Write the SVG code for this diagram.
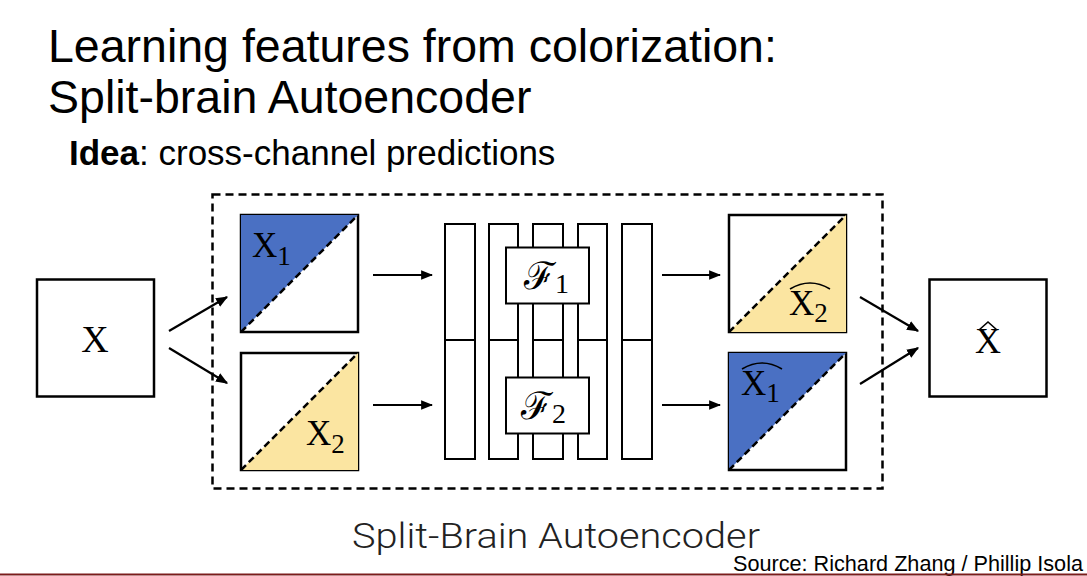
<svg xmlns="http://www.w3.org/2000/svg" width="1087" height="576" viewBox="0 0 1087 576">
<style>
.t{font-family:"Liberation Sans",Arial,sans-serif;fill:#000}
.box{fill:#fff;stroke:#000;stroke-width:2.5}
.col{fill:#fff;stroke:#000;stroke-width:2}
.diag{stroke:#000;stroke-width:2.5;stroke-dasharray:7 4;fill:none}
.blue{fill:#4A70C3}
.yel{fill:#FBE5A1}
.m{font-family:"Liberation Serif","DejaVu Serif",serif;fill:#000}
.hat{fill:none;stroke:#000;stroke-width:1.6}
.conn{stroke:#000;stroke-width:2.2;fill:none;marker-end:url(#ah)}
</style>
<defs>
<marker id="ah" viewBox="0 0 10 10" refX="9" refY="5" markerWidth="5.5" markerHeight="5.5" orient="auto" markerUnits="strokeWidth">
<path d="M0,1 L10,5 L0,9 z" fill="#000"/>
</marker>
</defs>
<rect width="1087" height="576" fill="#fff"/>

<g id="title">
<text class="t" x="48" y="62" font-size="46.5">Learning features from colorization:</text>
<text class="t" x="48" y="113" font-size="46.5">Split-brain Autoencoder</text>
<text class="t" x="69" y="165" font-size="35"><tspan font-weight="bold">Idea</tspan>: cross-channel predictions</text>
</g>

<g id="frame">
<rect x="212.5" y="194.5" width="670" height="294" fill="none" stroke="#000" stroke-width="2.5" stroke-dasharray="8 5"/>
</g>

<g id="node-x">
<rect class="box" x="37" y="279.5" width="117" height="117"/>
<text class="m" x="95" y="352" font-size="38" text-anchor="middle">X</text>
</g>

<g id="node-x1">
<rect class="box" x="241" y="215" width="117" height="117"/>
<polygon class="blue" points="241,215 358,215 241,332"/>
<line class="diag" x1="241" y1="332" x2="358" y2="215"/>
<text class="m" x="252" y="257" font-size="35">X<tspan font-size="27" dy="8">1</tspan></text>
</g>

<g id="node-x2">
<rect class="box" x="241" y="353" width="117" height="117"/>
<polygon class="yel" points="358,353 358,470 241,470"/>
<line class="diag" x1="241" y1="470" x2="358" y2="353"/>
<text class="m" x="306" y="445" font-size="35">X<tspan font-size="27" dy="8">2</tspan></text>
</g>

<g id="network">
<rect class="col" x="445" y="224" width="30" height="116"/>
<rect class="col" x="445" y="340" width="30" height="119"/>
<rect class="col" x="489" y="224" width="29" height="116"/>
<rect class="col" x="489" y="340" width="29" height="119"/>
<rect class="col" x="533" y="224" width="30" height="116"/>
<rect class="col" x="533" y="340" width="30" height="119"/>
<rect class="col" x="578" y="224" width="29" height="116"/>
<rect class="col" x="578" y="340" width="29" height="119"/>
<rect class="col" x="622" y="224" width="30" height="116"/>
<rect class="col" x="622" y="340" width="30" height="119"/>
</g>

<g id="node-f1">
<rect class="col" x="506" y="247.5" width="83" height="56"/>
<text class="m" x="524" y="289" font-size="38">ℱ<tspan font-size="28" dy="4">1</tspan></text>
</g>

<g id="node-f2">
<rect class="col" x="506" y="377.5" width="83" height="56"/>
<text class="m" x="521" y="419" font-size="38">ℱ<tspan font-size="28" dy="4">2</tspan></text>
</g>

<g id="node-x2hat">
<rect class="box" x="729" y="215" width="117" height="117"/>
<polygon class="yel" points="846,215 846,332 729,332"/>
<line class="diag" x1="729" y1="332" x2="846" y2="215"/>
<text class="m" x="789" y="315" font-size="35">X<tspan font-size="27" dy="7">2</tspan></text>
<path class="hat" d="M790,289 Q810,277 830,289"/>
</g>

<g id="node-x1hat">
<rect class="box" x="729" y="353" width="117" height="117"/>
<polygon class="blue" points="729,353 846,353 729,470"/>
<line class="diag" x1="729" y1="470" x2="846" y2="353"/>
<text class="m" x="741" y="395" font-size="35">X<tspan font-size="27" dy="7">1</tspan></text>
<path class="hat" d="M742,369 Q762,357 782,369"/>
</g>

<g id="node-xhat">
<rect class="box" x="929.5" y="279.5" width="117" height="117"/>
<text class="m" x="988" y="353" font-size="36" text-anchor="middle">X</text>
<path class="hat" d="M979,330 L988,322 L997,330"/>
</g>

<g id="connectors">
<line class="conn" x1="169" y1="331" x2="227" y2="297"/>
<line class="conn" x1="169" y1="348" x2="227" y2="383"/>
<line class="conn" x1="373" y1="275" x2="432" y2="275"/>
<line class="conn" x1="373" y1="405" x2="432" y2="405"/>
<line class="conn" x1="662" y1="275" x2="720" y2="275"/>
<line class="conn" x1="662" y1="405" x2="720" y2="405"/>
<line class="conn" x1="860" y1="297" x2="918" y2="331"/>
<line class="conn" x1="860" y1="384" x2="918" y2="348"/>
</g>

<g id="caption">
<text x="352" y="548" font-family="Roboto,'Liberation Sans',sans-serif" font-weight="300" font-size="35" fill="#222" textLength="408" lengthAdjust="spacingAndGlyphs">Split-Brain Autoencoder</text>
<text x="733" y="571" font-family="'Liberation Sans Narrow','Liberation Sans',sans-serif" font-size="22" fill="#000" textLength="350" lengthAdjust="spacingAndGlyphs">Source: Richard Zhang / Phillip Isola</text>
</g>
<line x1="0" y1="574.5" x2="1087" y2="574.5" stroke="#7B1C1C" stroke-width="2"/>
</svg>
